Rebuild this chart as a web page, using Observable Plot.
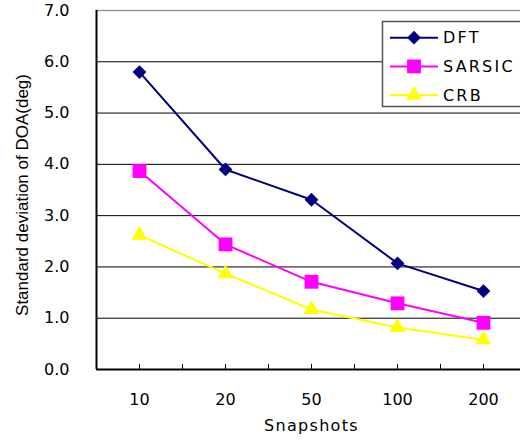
<!DOCTYPE html>
<html><head><meta charset="utf-8">
<script src="https://cdn.jsdelivr.net/npm/d3@7"></script>
<script src="https://cdn.jsdelivr.net/npm/@observablehq/plot@0.6"></script>
<style>
html,body{margin:0;padding:0;background:#fff;overflow:hidden;}
#wrap{position:relative;width:520px;height:443px;overflow:hidden;}
#legend{position:absolute;left:0;top:0;}
</style></head><body><div id="wrap"></div>
<script>
const categories = ["10", "20", "50", "100", "200"];
const dft = [5.80, 3.90, 3.31, 2.07, 1.53];
const sarsic = [3.87, 2.44, 1.71, 1.29, 0.91];
const crb = [2.62, 1.87, 1.17, 0.82, 0.58];
const yTicks = [0, 1, 2, 3, 4, 5, 6, 7];
const seriesNames = ["DFT", "SARSIC", "CRB"];
const seriesColors = ["#000080", "#FF00FF", "#FFFF00"];
const seriesSymbols = ["diamond2", "square", "triangle"];
const seriesR = [6.2, 7.8, 5.9];
const xLabel = "Snapshots";
const yLabel = "Standard deviation of DOA(deg)";

const series = [dft, sarsic, crb];
const rows = vals => categories.map((c, i) => ({x: i + 0.5, y: vals[i], c}));
const halfTicks = d3.range(1, categories.length * 2 + 1).map(i => i / 2);

const marks = [
  Plot.ruleY(yTicks.filter(v => v > 0 && v < 7), {stroke: "#000", strokeWidth: 1}),
  Plot.ruleY([7], {stroke: "#999", strokeWidth: 1.5}),
  Plot.ruleX(halfTicks, {x: d => d, y1: 0, y2: 0.1, stroke: "#000", strokeWidth: 1}),
  Plot.ruleY([0], {stroke: "#000", strokeWidth: 2}),
  Plot.ruleX([0], {stroke: "#000", strokeWidth: 2}),
];
series.forEach((vals, k) => {
  marks.push(Plot.line(rows(vals), {x: "x", y: "y", stroke: seriesColors[k], strokeWidth: 2}));
  marks.push(Plot.dot(rows(vals), {x: "x", y: "y", symbol: seriesSymbols[k], r: seriesR[k], fill: seriesColors[k], stroke: "none"}));
});
marks.push(
  Plot.axisX({ticks: categories.map((c, i) => i + 0.5), tickFormat: d => categories[Math.floor(d)], tickSize: 0, tickPadding: 24, label: null}),
  Plot.axisY({ticks: yTicks, tickFormat: d3.format(".1f"), tickSize: 0, tickPadding: 27, label: null}),
  Plot.text([xLabel], {frameAnchor: "bottom", dy: 61, text: d => d, fontSize: 16, textAnchor: "middle"}),
  Plot.text([yLabel], {frameAnchor: "left", dx: -74, dy: 5, rotate: -90, text: d => d, fontSize: 17, textAnchor: "middle"})
);

const chart = Plot.plot({
  width: 520,
  height: 443,
  marginLeft: 96,
  marginRight: -6,
  marginTop: 10,
  marginBottom: 74,
  x: {type: "linear", domain: [0, categories.length]},
  y: {domain: [0, 7]},
  style: {fontFamily: "DejaVu Sans", fontSize: "16px", color: "#000", background: "#fff", overflow: "hidden"},
  marks
});
const svg = d3.select(chart);
svg.selectAll("text").filter(function() { return this.textContent === xLabel; }).attr("letter-spacing", "1.3");
svg.selectAll("text").filter(function() { return this.textContent === yLabel; }).attr("font-family", "Liberation Sans");
document.getElementById("wrap").appendChild(chart);

// legend overlay
const lg = d3.select("#wrap").append("svg").attr("id", "legend").attr("width", 520).attr("height", 443);
lg.append("rect").attr("x", 382.5).attr("y", 21.5).attr("width", 160).attr("height", 85)
  .attr("fill", "#fff").attr("stroke", "#555").attr("stroke-width", 1.5);
const symMap = {diamond2: d3.symbolDiamond2, square: d3.symbolSquare, triangle: d3.symbolTriangle};
seriesNames.forEach((name, k) => {
  const y = 37.7 + k * 28.7;
  lg.append("line").attr("x1", 390).attr("x2", 438).attr("y1", y).attr("y2", y)
    .attr("stroke", seriesColors[k]).attr("stroke-width", 2);
  lg.append("path").attr("transform", `translate(414,${y})`)
    .attr("d", d3.symbol(symMap[seriesSymbols[k]], Math.PI * seriesR[k] * seriesR[k])())
    .attr("fill", seriesColors[k]);
  lg.append("text").attr("x", 443).attr("y", y).attr("dy", "0.36em")
    .attr("font-family", "DejaVu Sans").attr("font-size", 16).attr("letter-spacing", 2.2)
    .text(name);
});
</script></body></html>
